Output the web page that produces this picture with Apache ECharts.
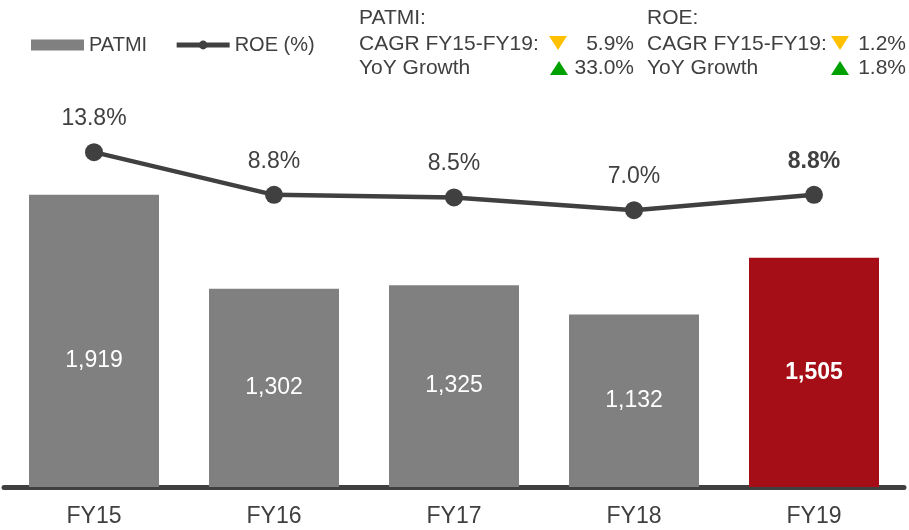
<!DOCTYPE html>
<html>
<head>
<meta charset="utf-8">
<script src="https://cdn.jsdelivr.net/npm/echarts@6/dist/echarts.min.js"></script>
<style>
    html, body { margin: 0; padding: 0; background: #fff; }
    #chart { width: 909px; height: 530px; }
</style>
</head>
<body>
<div id="chart"></div>
<script>
// 数据
var years = ['FY15', 'FY16', 'FY17', 'FY18', 'FY19'];
var patmi = [1919, 1302, 1325, 1132, 1505];
var roe = [13.8, 8.8, 8.5, 7.0, 8.8];

var textColor = '#404040';
var fontName = '"Liberation Sans", Arial, sans-serif';

var myChart = echarts.init(document.getElementById('chart'));

// 柱子 -- 最后一年用红色
var barData = patmi.map(function (v, i) {
    var item = { value: v };
    if (i == 0) {
        item.label = { offset: [0, 20] };
    }
    if (i == patmi.length - 1) {
        item.itemStyle = { color: '#A50E16' };
        item.label = { fontWeight: 'bold' };
    }
    return item;
});

// 折线 -- 最后一年标签加粗
var lineData = roe.map(function (v, i) {
    var item = { value: v };
    if (i == roe.length - 1) {
        item.label = { fontWeight: 'bold' };
    }
    return item;
});

/**
 * 右上角说明文字
 */
function txt(x, y, s, align) {
    return {
        type: 'text',
        x: x,
        y: y,
        style: {
            text: s,
            fill: textColor,
            font: '21px ' + fontName,
            align: align || 'left',
            verticalAlign: 'middle'
        }
    };
}

/**
 * 三角形 -- 上升/下降
 */
function tri(cx, cy, up, color) {
    var w = 9, h = 7;
    var pts = up
        ? [[cx - w, cy + h], [cx + w, cy + h], [cx, cy - h]]
        : [[cx - w, cy - h], [cx + w, cy - h], [cx, cy + h]];
    return {
        type: 'polygon',
        shape: { points: pts },
        style: { fill: color }
    };
}

var option = {
    animation: false,
    textStyle: { fontFamily: fontName },
    grid: {
        left: 4,
        right: 5,
        top: 30,
        bottom: 43
    },
    legend: {
        left: 26,
        top: 30,
        itemGap: 27,
        itemWidth: 53,
        itemHeight: 11,
        textStyle: { color: textColor, fontSize: 20, fontFamily: fontName },
        data: [
            { name: 'PATMI', icon: 'rect' },
            {
                name: 'ROE (%)',
                lineStyle: { width: 5, color: '#404040' },
                itemStyle: { color: '#404040' }
            }
        ]
    },
    xAxis: {
        type: 'category',
        data: years,
        axisTick: { show: false },
        axisLine: {
            show: true,
            lineStyle: { color: '#404040', width: 5 }
        },
        axisLabel: {
            color: textColor,
            fontSize: 23,
            margin: 18,
            fontFamily: fontName
        }
    },
    yAxis: [{
        type: 'value',
        min: 0,
        max: 3000,
        show: false,
        splitLine: { show: false }
    }, {
        type: 'value',
        min: -25.4,
        max: 28.1,
        show: false,
        splitLine: { show: false }
    }],
    series: [{
        name: 'PATMI',
        type: 'bar',
        barWidth: 130,
        itemStyle: { color: '#808080' },
        label: {
            show: true,
            position: 'inside',
            color: '#fff',
            fontSize: 23,
            fontFamily: fontName,
            formatter: function (p) {
                return p.value.toLocaleString('en-US');
            }
        },
        data: barData
    }, {
        name: 'ROE (%)',
        type: 'line',
        yAxisIndex: 1,
        symbol: 'circle',
        symbolSize: 18,
        itemStyle: { color: '#404040' },
        lineStyle: { color: '#404040', width: 4.5 },
        label: {
            show: true,
            position: 'top',
            distance: 13,
            color: textColor,
            fontSize: 23,
            fontFamily: fontName,
            formatter: function (p) {
                return p.value.toFixed(1) + '%';
            }
        },
        data: lineData
    }],
    graphic: [
        txt(359, 18, 'PATMI:'),
        txt(359, 44, 'CAGR FY15-FY19:'),
        tri(558, 43, false, '#FFC000'),
        txt(634, 44, '5.9%', 'right'),
        txt(359, 68, 'YoY Growth'),
        tri(559, 68, true, '#00A000'),
        txt(634, 68, '33.0%', 'right'),

        txt(647, 18, 'ROE:'),
        txt(647, 44, 'CAGR FY15-FY19:'),
        tri(840, 43, false, '#FFC000'),
        txt(906, 44, '1.2%', 'right'),
        txt(647, 68, 'YoY Growth'),
        tri(840, 68, true, '#00A000'),
        txt(906, 68, '1.8%', 'right')
    ]
};

myChart.setOption(option);
</script>
</body>
</html>
